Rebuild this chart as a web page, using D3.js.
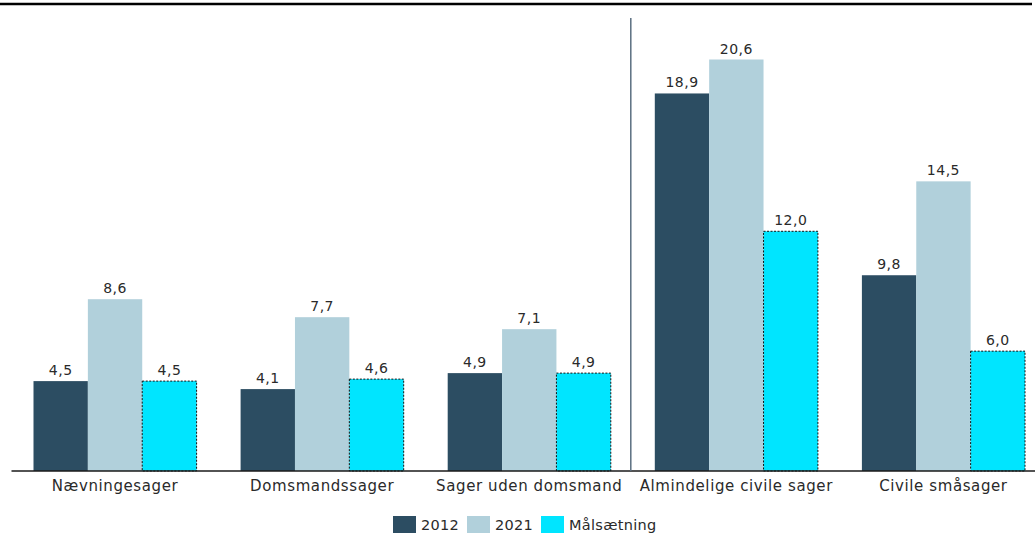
<!DOCTYPE html>
<html lang="da">
<head>
<meta charset="utf-8">
<title>Sagsbehandlingstider</title>
<script src="https://d3js.org/d3.v7.min.js"></script>
<style>
  body { margin: 0; background: #fff; }
  text { font-family: "DejaVu Sans", sans-serif; fill: #2a2a2a; }
</style>
</head>
<body>
<div id="chart"></div>
<script>
// data
var categories = ["Nævningesager", "Domsmandssager", "Sager uden domsmand", "Almindelige civile sager", "Civile småsager"];
var seriesNames = ["2012", "2021", "Målsætning"];
var values2012 = [4.5, 4.1, 4.9, 18.9, 9.8];
var values2021 = [8.6, 7.7, 7.1, 20.6, 14.5];
var valuesMaal = [4.5, 4.6, 4.9, 12.0, 6.0];
var colors = ["#2c4d62", "#b1d0db", "#00e5ff"];

var W = 1035, H = 553;
var baseY = 471;

var svg = d3.select("#chart").append("svg")
  .attr("width", W).attr("height", H);

var x0 = d3.scaleBand().domain(categories).range([11.5, 1047]);
var x1 = d3.scaleBand().domain(seriesNames).range([22, x0.bandwidth() - 22]);
var y = d3.scaleLinear().domain([0, 20.6]).range([baseY, 59.5]);

var fmt = function(v) { return d3.format(".1f")(v).replace(".", ","); };

var rows = categories.map(function(c, i) {
  return { cat: c, vals: [values2012[i], values2021[i], valuesMaal[i]] };
});

// top rule
svg.append("line")
  .attr("x1", 0).attr("x2", 1032).attr("y1", 4).attr("y2", 4)
  .attr("stroke", "#000").attr("stroke-width", 2.5);

var g = svg.selectAll("g.grp").data(rows).enter().append("g")
  .attr("class", "grp")
  .attr("transform", function(d) { return "translate(" + x0(d.cat) + ",0)"; });

g.selectAll("rect").data(function(d) {
    return d.vals.map(function(v, k) { return { s: seriesNames[k], v: v, k: k }; });
  }).enter().append("rect")
  .attr("x", function(d) { return x1(d.s); })
  .attr("width", x1.bandwidth())
  .attr("y", function(d) { return y(d.v); })
  .attr("height", function(d) { return baseY - y(d.v); })
  .attr("fill", function(d) { return colors[d.k]; })
  .attr("stroke", function(d) { return d.k == 2 ? "#111" : "none"; })
  .attr("stroke-width", 1)
  .attr("stroke-dasharray", function(d) { return d.k == 2 ? "2,1.5" : null; });

g.selectAll("text.val").data(function(d) {
    return d.vals.map(function(v, k) { return { s: seriesNames[k], v: v }; });
  }).enter().append("text")
  .attr("class", "val")
  .attr("x", function(d) { return x1(d.s) + x1.bandwidth() / 2; })
  .attr("y", function(d) { return y(d.v) - 6; })
  .attr("text-anchor", "middle")
  .style("font-size", "14px")
  .style("letter-spacing", "0.5px")
  .text(function(d) { return fmt(d.v); });

// baseline
svg.append("line")
  .attr("x1", 11.5).attr("x2", W).attr("y1", baseY).attr("y2", baseY)
  .attr("stroke", "#1a1a1a").attr("stroke-width", 1.3);

// divider between criminal and civil cases
var divX = x0("Almindelige civile sager") - 2;
svg.append("line")
  .attr("x1", divX).attr("x2", divX).attr("y1", 18).attr("y2", baseY)
  .attr("stroke", "#5b6f80").attr("stroke-width", 1.5);

// category labels
svg.selectAll("text.cat").data(categories).enter().append("text")
  .attr("class", "cat")
  .attr("x", function(d) { return x0(d) + x0.bandwidth() / 2; })
  .attr("y", 491)
  .attr("text-anchor", "middle")
  .style("font-size", "15px")
  .style("letter-spacing", "0.6px")
  .text(function(d) { return d; });

// legend
var leg = svg.append("g").attr("transform", "translate(393,516)");
var li = leg.selectAll("g").data(seriesNames).enter().append("g")
  .attr("transform", function(d, i) { return "translate(" + (i * 74) + ",0)"; });
li.append("rect").attr("width", 23).attr("height", 17)
  .attr("fill", function(d, i) { return colors[i]; });
li.append("text").attr("x", 28).attr("y", 14)
  .style("font-size", "14.5px")
  .style("letter-spacing", "0.3px")
  .text(function(d) { return d; });
</script>
</body>
</html>
